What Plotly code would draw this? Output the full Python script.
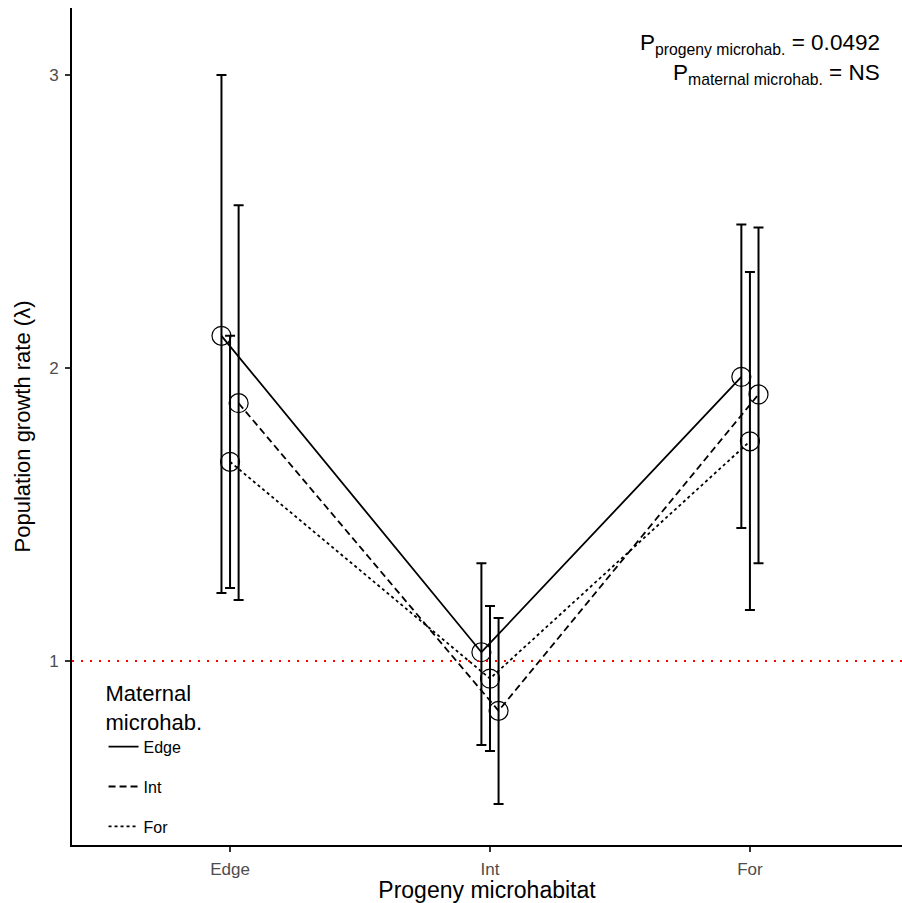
import plotly.graph_objects as go

categories = ["Edge", "Int", "For"]
cat_pos = [1, 2, 3]
maternal = ["Edge", "Int", "For"]

# mean lambda per maternal microhabitat, at progeny Edge, Int, For
means = {
    "Edge": [2.11, 1.03, 1.97],
    "Int": [1.88, 0.83, 1.91],
    "For": [1.68, 0.94, 1.75],
}
upper = {
    "Edge": [3.00, 1.334, 2.49],
    "Int": [2.556, 1.147, 2.48],
    "For": [2.11, 1.188, 2.328],
}
lower = {
    "Edge": [1.232, 0.713, 1.454],
    "Int": [1.208, 0.512, 1.334],
    "For": [1.249, 0.693, 1.174],
}
dodge = {"Edge": -0.033, "For": 0.0, "Int": 0.033}
dashes = {"Edge": "solid", "Int": "7px,4px", "For": "3px,3px"}

fig = go.Figure()
FONT = "Arial, Liberation Sans, sans-serif"

for m in maternal:
    xs = [p + dodge[m] for p in cat_pos]
    fig.add_trace(go.Scatter(
        x=xs, y=means[m], mode="lines", name=m,
        line=dict(color="black", width=1.8, dash=dashes[m]),
        legendgroup=m, showlegend=True,
    ))

for m in maternal:
    xs = [p + dodge[m] for p in cat_pos]
    fig.add_trace(go.Scatter(
        x=xs, y=means[m], mode="markers", showlegend=False,
        marker=dict(symbol="circle-open", size=19, color="black", line=dict(width=1.2)),
        error_y=dict(type="data", symmetric=False,
                     array=[u - v for u, v in zip(upper[m], means[m])],
                     arrayminus=[v - l for l, v in zip(lower[m], means[m])],
                     color="black", thickness=2, width=5),
    ))

fig.add_hline(y=1, line=dict(color="red", width=2.2, dash="2px,7px"))

fig.add_annotation(xref="paper", yref="paper", x=0.976, y=0.957, xanchor="right", yanchor="middle",
                   text="P<sub>progeny microhab.</sub> = 0.0492", showarrow=False,
                   font=dict(size=22.5, color="black", family=FONT))
fig.add_annotation(xref="paper", yref="paper", x=0.976, y=0.921, xanchor="right", yanchor="middle",
                   text="P<sub>maternal microhab.</sub> = NS", showarrow=False,
                   font=dict(size=22.5, color="black", family=FONT))

fig.update_layout(
    width=902, height=903,
    margin=dict(l=72, r=0, t=8, b=58),
    plot_bgcolor="white", paper_bgcolor="white",
    font=dict(family=FONT, color="black"),
    showlegend=True,
    legend=dict(
        x=0.038, y=0.206, xanchor="left", yanchor="top",
        bgcolor="rgba(0,0,0,0)",
        title=dict(text="Maternal<br>microhab.", font=dict(size=22, color="black")),
        font=dict(size=16, color="black"),
        tracegroupgap=16,
        itemwidth=30,
    ),
    xaxis=dict(
        range=[0.392, 3.585], tickvals=cat_pos, ticktext=categories,
        showgrid=False, zeroline=False,
        showline=True, linecolor="black", linewidth=2,
        ticks="outside", ticklen=5, tickcolor="#333333", tickwidth=1.5,
        ticklabelstandoff=3,
        tickfont=dict(size=17, color="#4d4d4d"),
        title=dict(text="Progeny microhabitat", font=dict(size=23, color="black"), standoff=7),
    ),
    yaxis=dict(
        range=[0.372, 3.229], tickvals=[1, 2, 3],
        showgrid=False, zeroline=False,
        showline=True, linecolor="black", linewidth=2,
        ticks="outside", ticklen=5, tickcolor="#333333", tickwidth=1.5,
        ticklabelstandoff=3,
        tickfont=dict(size=17, color="#4d4d4d"),
        title=dict(text="Population growth rate (λ)", font=dict(size=22, color="black"), standoff=12),
    ),
)

fig.write_html("out.html", config={"displayModeBar": False},
               post_script="document.body.style.margin='0';document.body.style.overflow='hidden';")
